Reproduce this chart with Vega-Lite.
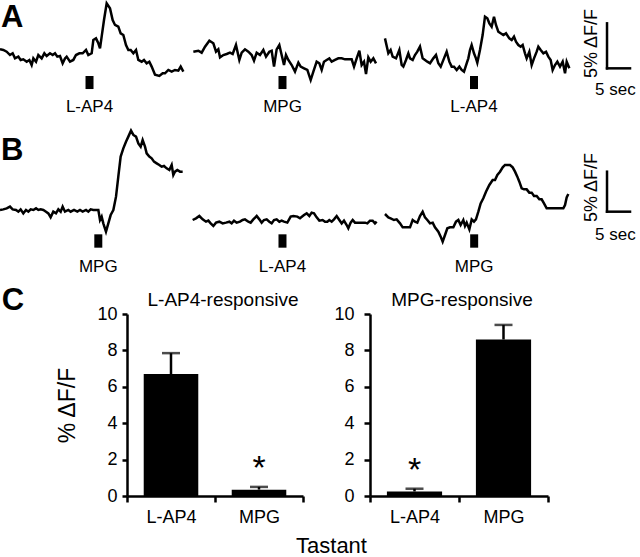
{
  "$schema": "https://vega.github.io/schema/vega-lite/v6.json",
  "padding": 0,
  "background": "white",
  "bounds": "flush",
  "spacing": 0,
  "datasets": {
    "tracesA": [
      {"trace":"A1","t":0,"v":0.85},{"trace":"A1","t":0.72,"v":0.78},{"trace":"A1","t":1.45,"v":0.59},{"trace":"A1","t":2.17,"v":0.22},{"trace":"A1","t":2.75,"v":0.41},{"trace":"A1","t":3.26,"v":-0.15},{"trace":"A1","t":3.99,"v":0.04},{"trace":"A1","t":4.49,"v":-0.33},{"trace":"A1","t":5.07,"v":-0.26},{"trace":"A1","t":5.8,"v":-0.52},{"trace":"A1","t":6.38,"v":-0.33},{"trace":"A1","t":6.88,"v":-0.89},{"trace":"A1","t":7.25,"v":-0.15},{"trace":"A1","t":7.83,"v":-0.52},{"trace":"A1","t":8.33,"v":0.22},{"trace":"A1","t":9.06,"v":-0.15},{"trace":"A1","t":9.64,"v":0.41},{"trace":"A1","t":10.14,"v":0.11},{"trace":"A1","t":10.87,"v":0.41},{"trace":"A1","t":11.45,"v":0.22},{"trace":"A1","t":11.96,"v":0.41},{"trace":"A1","t":12.46,"v":0.04},{"trace":"A1","t":13.04,"v":0.11},{"trace":"A1","t":13.62,"v":-0.7},{"trace":"A1","t":14.13,"v":-0.15},{"trace":"A1","t":14.49,"v":0.04},{"trace":"A1","t":15.22,"v":-0.52},{"trace":"A1","t":15.94,"v":-0.33},{"trace":"A1","t":16.52,"v":0.22},{"trace":"A1","t":17.25,"v":0.41},{"trace":"A1","t":17.97,"v":0.41},{"trace":"A1","t":18.7,"v":0.78},{"trace":"A1","t":19.2,"v":0.22},{"trace":"A1","t":19.93,"v":0.41},{"trace":"A1","t":20.29,"v":1.89},{"trace":"A1","t":20.87,"v":2.07},{"trace":"A1","t":21.38,"v":1.52},{"trace":"A1","t":21.74,"v":0.96},{"trace":"A1","t":22.1,"v":2.26},{"trace":"A1","t":22.61,"v":4.11},{"trace":"A1","t":23.19,"v":5.96},{"trace":"A1","t":23.91,"v":5.41},{"trace":"A1","t":24.49,"v":4.11},{"trace":"A1","t":25.0,"v":3.56},{"trace":"A1","t":25.72,"v":3.37},{"trace":"A1","t":26.23,"v":2.63},{"trace":"A1","t":26.81,"v":2.44},{"trace":"A1","t":27.39,"v":1.33},{"trace":"A1","t":27.9,"v":0.78},{"trace":"A1","t":28.41,"v":0.78},{"trace":"A1","t":28.99,"v":0.41},{"trace":"A1","t":29.57,"v":0.78},{"trace":"A1","t":30.07,"v":-0.33},{"trace":"A1","t":30.8,"v":-0.52},{"trace":"A1","t":31.3,"v":-0.33},{"trace":"A1","t":31.88,"v":-0.7},{"trace":"A1","t":32.46,"v":-0.52},{"trace":"A1","t":32.97,"v":-1.07},{"trace":"A1","t":33.7,"v":-1.97},{"trace":"A1","t":34.64,"v":-2.11},{"trace":"A1","t":35.36,"v":-1.81},{"trace":"A1","t":35.87,"v":-1.81},{"trace":"A1","t":36.59,"v":-1.44},{"trace":"A1","t":37.32,"v":-1.63},{"trace":"A1","t":38.04,"v":-1.44},{"trace":"A1","t":38.77,"v":-1.52},{"trace":"A1","t":39.28,"v":-1.07},{"trace":"A1","t":39.86,"v":-1.63},
      {"trace":"A2","t":42.03,"v":0.59},{"trace":"A2","t":43.12,"v":0.7},{"trace":"A2","t":43.84,"v":0.48},{"trace":"A2","t":44.57,"v":1.15},{"trace":"A2","t":45.51,"v":1.81},{"trace":"A2","t":46.38,"v":1.52},{"trace":"A2","t":46.96,"v":0.59},{"trace":"A2","t":47.46,"v":0.85},{"trace":"A2","t":47.83,"v":-0.04},{"trace":"A2","t":48.55,"v":0.22},{"trace":"A2","t":49.28,"v":0.33},{"trace":"A2","t":50.0,"v":0.48},{"trace":"A2","t":50.58,"v":0.33},{"trace":"A2","t":51.3,"v":1.33},{"trace":"A2","t":52.03,"v":-0.33},{"trace":"A2","t":52.54,"v":0.48},{"trace":"A2","t":53.26,"v":0.85},{"trace":"A2","t":53.99,"v":0.59},{"trace":"A2","t":54.71,"v":0.22},{"trace":"A2","t":55.22,"v":-0.41},{"trace":"A2","t":55.8,"v":0.48},{"trace":"A2","t":56.52,"v":0.22},{"trace":"A2","t":57.25,"v":0.78},{"trace":"A2","t":57.83,"v":0.04},{"trace":"A2","t":58.55,"v":0.59},{"trace":"A2","t":59.06,"v":0.7},{"trace":"A2","t":59.57,"v":-1.07},{"trace":"A2","t":60.14,"v":0.85},{"trace":"A2","t":60.72,"v":1.33},{"trace":"A2","t":61.23,"v":0.22},{"trace":"A2","t":61.74,"v":-0.89},{"trace":"A2","t":62.17,"v":0.22},{"trace":"A2","t":62.68,"v":-0.33},{"trace":"A2","t":63.41,"v":-0.89},{"trace":"A2","t":64.13,"v":-1.63},{"trace":"A2","t":64.86,"v":-0.63},{"trace":"A2","t":65.36,"v":-1.07},{"trace":"A2","t":66.09,"v":-1.26},{"trace":"A2","t":66.81,"v":-1.44},{"trace":"A2","t":67.54,"v":-2.56},{"trace":"A2","t":68.12,"v":-1.63},{"trace":"A2","t":68.84,"v":-0.52},{"trace":"A2","t":69.42,"v":-0.7},{"trace":"A2","t":69.93,"v":-1.44},{"trace":"A2","t":70.43,"v":-0.52},{"trace":"A2","t":71.01,"v":-0.33},{"trace":"A2","t":71.59,"v":-0.15},{"trace":"A2","t":72.1,"v":-0.52},{"trace":"A2","t":72.83,"v":-0.33},{"trace":"A2","t":73.55,"v":-0.15},{"trace":"A2","t":74.28,"v":-0.15},{"trace":"A2","t":75.0,"v":-0.26},{"trace":"A2","t":75.72,"v":-0.26},{"trace":"A2","t":76.45,"v":-0.26},{"trace":"A2","t":76.96,"v":-1.07},{"trace":"A2","t":77.54,"v":-0.15},{"trace":"A2","t":78.12,"v":0.7},{"trace":"A2","t":78.62,"v":-0.89},{"trace":"A2","t":79.13,"v":-0.52},{"trace":"A2","t":79.57,"v":-1.89},{"trace":"A2","t":80.07,"v":-0.04},{"trace":"A2","t":80.58,"v":-0.52},{"trace":"A2","t":81.16,"v":-0.15},{"trace":"A2","t":81.74,"v":-0.7},
      {"trace":"A3","t":83.69,"v":2.07},{"trace":"A3","t":84.42,"v":0.41},{"trace":"A3","t":84.92,"v":0.78},{"trace":"A3","t":85.36,"v":0.04},{"trace":"A3","t":86.09,"v":-0.15},{"trace":"A3","t":86.81,"v":0.78},{"trace":"A3","t":87.32,"v":-0.89},{"trace":"A3","t":87.68,"v":-1.07},{"trace":"A3","t":88.26,"v":-0.33},{"trace":"A3","t":88.77,"v":0.41},{"trace":"A3","t":89.13,"v":-0.15},{"trace":"A3","t":89.71,"v":-0.33},{"trace":"A3","t":90.21,"v":0.22},{"trace":"A3","t":90.72,"v":0.59},{"trace":"A3","t":91.3,"v":1.15},{"trace":"A3","t":91.88,"v":-0.15},{"trace":"A3","t":92.39,"v":-0.33},{"trace":"A3","t":92.9,"v":-0.52},{"trace":"A3","t":93.48,"v":-0.7},{"trace":"A3","t":94.2,"v":-0.15},{"trace":"A3","t":94.78,"v":0.22},{"trace":"A3","t":95.29,"v":-0.7},{"trace":"A3","t":95.8,"v":-1.07},{"trace":"A3","t":96.52,"v":-0.15},{"trace":"A3","t":97.1,"v":0.59},{"trace":"A3","t":97.68,"v":-0.52},{"trace":"A3","t":98.19,"v":-1.07},{"trace":"A3","t":98.7,"v":-1.07},{"trace":"A3","t":99.28,"v":-1.44},{"trace":"A3","t":99.86,"v":-1.07},{"trace":"A3","t":100.36,"v":-1.44},{"trace":"A3","t":100.87,"v":-1.63},{"trace":"A3","t":101.45,"v":-0.7},{"trace":"A3","t":101.81,"v":-0.15},{"trace":"A3","t":102.17,"v":0.78},{"trace":"A3","t":102.53,"v":1.33},{"trace":"A3","t":103.04,"v":0.41},{"trace":"A3","t":103.47,"v":-0.15},{"trace":"A3","t":103.76,"v":-0.63},{"trace":"A3","t":104.34,"v":0.78},{"trace":"A3","t":104.92,"v":2.44},{"trace":"A3","t":105.43,"v":4.48},{"trace":"A3","t":105.94,"v":4.3},{"trace":"A3","t":106.38,"v":3.74},{"trace":"A3","t":106.88,"v":3.37},{"trace":"A3","t":107.39,"v":4.48},{"trace":"A3","t":107.82,"v":3.56},{"trace":"A3","t":108.33,"v":2.81},{"trace":"A3","t":108.84,"v":2.63},{"trace":"A3","t":109.42,"v":2.44},{"trace":"A3","t":110.0,"v":2.63},{"trace":"A3","t":110.72,"v":2.07},{"trace":"A3","t":111.23,"v":1.89},{"trace":"A3","t":111.74,"v":2.26},{"trace":"A3","t":112.17,"v":1.7},{"trace":"A3","t":112.68,"v":1.33},{"trace":"A3","t":113.19,"v":1.15},{"trace":"A3","t":113.62,"v":1.33},{"trace":"A3","t":114.13,"v":0.41},{"trace":"A3","t":114.49,"v":-0.15},{"trace":"A3","t":115.07,"v":0.59},{"trace":"A3","t":115.58,"v":-0.89},{"trace":"A3","t":116.09,"v":-0.15},{"trace":"A3","t":116.67,"v":0.59},{"trace":"A3","t":117.03,"v":1.15},{"trace":"A3","t":117.54,"v":0.78},{"trace":"A3","t":118.12,"v":0.41},{"trace":"A3","t":118.7,"v":0.59},{"trace":"A3","t":119.2,"v":0.04},{"trace":"A3","t":119.71,"v":-0.33},{"trace":"A3","t":120.14,"v":-1.44},{"trace":"A3","t":120.65,"v":-0.89},{"trace":"A3","t":121.16,"v":-0.52},{"trace":"A3","t":121.74,"v":-1.07},{"trace":"A3","t":122.32,"v":-0.52},{"trace":"A3","t":122.83,"v":-1.81},{"trace":"A3","t":123.19,"v":-0.52},{"trace":"A3","t":123.77,"v":-1.26}
    ],
    "stimA": [
      {"t": 19.46, "label": "L-AP4"},
      {"t": 61.41, "label": "MPG"},
      {"t": 103.04, "label": "L-AP4"}
    ],
    "tracesB": [
      {"trace":"B1","t":0,"v":0},{"trace":"B1","t":0.72,"v":0.08},{"trace":"B1","t":1.45,"v":0.21},{"trace":"B1","t":2.17,"v":0.42},{"trace":"B1","t":2.75,"v":0.08},{"trace":"B1","t":3.48,"v":0},{"trace":"B1","t":3.99,"v":-0.21},{"trace":"B1","t":4.49,"v":0.08},{"trace":"B1","t":5.07,"v":-0.42},{"trace":"B1","t":5.65,"v":0},{"trace":"B1","t":6.16,"v":-0.21},{"trace":"B1","t":6.67,"v":0.08},{"trace":"B1","t":7.25,"v":0},{"trace":"B1","t":7.83,"v":0.21},{"trace":"B1","t":8.33,"v":0},{"trace":"B1","t":8.84,"v":0.08},{"trace":"B1","t":9.42,"v":0},{"trace":"B1","t":10.0,"v":-0.21},{"trace":"B1","t":10.51,"v":-0.42},{"trace":"B1","t":11.01,"v":-0.92},{"trace":"B1","t":11.59,"v":-0.21},{"trace":"B1","t":12.17,"v":-0.42},{"trace":"B1","t":12.68,"v":0.08},{"trace":"B1","t":13.19,"v":-0.21},{"trace":"B1","t":13.62,"v":0.42},{"trace":"B1","t":14.13,"v":-0.21},{"trace":"B1","t":14.86,"v":0},{"trace":"B1","t":15.36,"v":-0.21},{"trace":"B1","t":16.09,"v":0},{"trace":"B1","t":16.81,"v":-0.21},{"trace":"B1","t":17.39,"v":0},{"trace":"B1","t":17.97,"v":-0.21},{"trace":"B1","t":18.7,"v":0},{"trace":"B1","t":19.2,"v":-0.21},{"trace":"B1","t":19.71,"v":0.08},{"trace":"B1","t":20.29,"v":0},{"trace":"B1","t":20.87,"v":0},{"trace":"B1","t":21.38,"v":0},{"trace":"B1","t":21.74,"v":-1.25},{"trace":"B1","t":22.1,"v":-0.83},{"trace":"B1","t":22.46,"v":-1.67},{"trace":"B1","t":23.04,"v":-2.71},{"trace":"B1","t":23.55,"v":-1.67},{"trace":"B1","t":24.06,"v":-0.63},{"trace":"B1","t":24.64,"v":0},{"trace":"B1","t":25.22,"v":1.67},{"trace":"B1","t":25.72,"v":4.17},{"trace":"B1","t":26.23,"v":6.67},{"trace":"B1","t":26.81,"v":7.71},{"trace":"B1","t":27.39,"v":8.54},{"trace":"B1","t":27.9,"v":9.17},{"trace":"B1","t":28.48,"v":9.92},{"trace":"B1","t":28.99,"v":9.38},{"trace":"B1","t":29.57,"v":9.17},{"trace":"B1","t":30.07,"v":8.33},{"trace":"B1","t":30.58,"v":7.92},{"trace":"B1","t":31.01,"v":8.75},{"trace":"B1","t":31.52,"v":7.92},{"trace":"B1","t":31.88,"v":7.08},{"trace":"B1","t":32.46,"v":6.67},{"trace":"B1","t":32.97,"v":6.46},{"trace":"B1","t":33.48,"v":6.04},{"trace":"B1","t":34.06,"v":5.83},{"trace":"B1","t":34.64,"v":5.63},{"trace":"B1","t":35.14,"v":5.42},{"trace":"B1","t":35.65,"v":5.5},{"trace":"B1","t":36.23,"v":5.21},{"trace":"B1","t":36.81,"v":5.0},{"trace":"B1","t":37.32,"v":5.63},{"trace":"B1","t":37.68,"v":4.38},{"trace":"B1","t":38.04,"v":4.79},{"trace":"B1","t":38.55,"v":5.0},{"trace":"B1","t":39.13,"v":4.79},{"trace":"B1","t":39.71,"v":4.79},
      {"trace":"B2","t":41.88,"v":-1.25},{"trace":"B2","t":42.61,"v":-1.04},{"trace":"B2","t":43.33,"v":-0.75},{"trace":"B2","t":44.06,"v":-1.17},{"trace":"B2","t":44.78,"v":-1.46},{"trace":"B2","t":45.29,"v":-1.33},{"trace":"B2","t":45.8,"v":-1.67},{"trace":"B2","t":46.38,"v":-2.0},{"trace":"B2","t":46.96,"v":-1.58},{"trace":"B2","t":47.68,"v":-1.46},{"trace":"B2","t":48.41,"v":-1.67},{"trace":"B2","t":49.13,"v":-1.58},{"trace":"B2","t":49.86,"v":-1.46},{"trace":"B2","t":50.36,"v":-1.67},{"trace":"B2","t":50.87,"v":-1.33},{"trace":"B2","t":51.45,"v":-1.58},{"trace":"B2","t":52.17,"v":-1.46},{"trace":"B2","t":52.75,"v":-1.25},{"trace":"B2","t":53.26,"v":-1.17},{"trace":"B2","t":53.99,"v":-1.46},{"trace":"B2","t":54.49,"v":-1.58},{"trace":"B2","t":55.07,"v":-1.17},{"trace":"B2","t":55.8,"v":-0.75},{"trace":"B2","t":56.38,"v":-1.17},{"trace":"B2","t":56.88,"v":-1.58},{"trace":"B2","t":57.39,"v":-1.25},{"trace":"B2","t":57.97,"v":-1.17},{"trace":"B2","t":58.55,"v":-1.46},{"trace":"B2","t":59.06,"v":-1.67},{"trace":"B2","t":59.57,"v":-1.25},{"trace":"B2","t":60.14,"v":-1.17},{"trace":"B2","t":60.72,"v":-1.46},{"trace":"B2","t":61.23,"v":-1.33},{"trace":"B2","t":61.74,"v":-1.46},{"trace":"B2","t":62.46,"v":-1.58},{"trace":"B2","t":63.19,"v":-0.83},{"trace":"B2","t":63.77,"v":-0.75},{"trace":"B2","t":64.64,"v":-0.83},{"trace":"B2","t":65.22,"v":-1.04},{"trace":"B2","t":66.09,"v":-0.63},{"trace":"B2","t":66.67,"v":-0.42},{"trace":"B2","t":67.25,"v":-0.75},{"trace":"B2","t":67.75,"v":-0.33},{"trace":"B2","t":68.26,"v":-0.42},{"trace":"B2","t":68.84,"v":-0.92},{"trace":"B2","t":69.42,"v":-1.33},{"trace":"B2","t":70.14,"v":-1.25},{"trace":"B2","t":70.65,"v":-1.46},{"trace":"B2","t":71.16,"v":-1.46},{"trace":"B2","t":71.59,"v":-1.25},{"trace":"B2","t":72.1,"v":-1.46},{"trace":"B2","t":72.61,"v":-1.17},{"trace":"B2","t":73.19,"v":-0.75},{"trace":"B2","t":73.77,"v":-1.25},{"trace":"B2","t":74.28,"v":-1.67},{"trace":"B2","t":74.78,"v":-1.33},{"trace":"B2","t":75.36,"v":-1.88},{"trace":"B2","t":75.72,"v":-2.29},{"trace":"B2","t":76.23,"v":-1.58},{"trace":"B2","t":76.67,"v":-1.25},{"trace":"B2","t":77.17,"v":-1.58},{"trace":"B2","t":77.68,"v":-1.58},{"trace":"B2","t":78.26,"v":-1.58},{"trace":"B2","t":78.84,"v":-1.58},{"trace":"B2","t":79.35,"v":-1.58},{"trace":"B2","t":79.86,"v":-1.67},{"trace":"B2","t":80.43,"v":-1.33},{"trace":"B2","t":81.01,"v":-1.33},{"trace":"B2","t":81.52,"v":-1.67},{"trace":"B2","t":81.88,"v":-1.46},
      {"trace":"B3","t":83.69,"v":-0.5},{"trace":"B3","t":84.42,"v":-0.92},{"trace":"B3","t":84.92,"v":-1.04},{"trace":"B3","t":85.65,"v":-1.25},{"trace":"B3","t":86.23,"v":-1.17},{"trace":"B3","t":86.96,"v":-1.67},{"trace":"B3","t":87.54,"v":-2.17},{"trace":"B3","t":88.26,"v":-2.17},{"trace":"B3","t":89.13,"v":-2.17},{"trace":"B3","t":89.71,"v":-1.25},{"trace":"B3","t":90.21,"v":-1.46},{"trace":"B3","t":90.72,"v":-1.58},{"trace":"B3","t":91.3,"v":-0.75},{"trace":"B3","t":91.88,"v":-0.21},{"trace":"B3","t":92.39,"v":-0.92},{"trace":"B3","t":92.9,"v":-1.25},{"trace":"B3","t":93.48,"v":-1.67},{"trace":"B3","t":94.06,"v":-1.58},{"trace":"B3","t":94.56,"v":-2.17},{"trace":"B3","t":95.29,"v":-2.71},{"trace":"B3","t":95.8,"v":-3.33},{"trace":"B3","t":96.23,"v":-3.96},{"trace":"B3","t":96.74,"v":-3.13},{"trace":"B3","t":97.25,"v":-2.29},{"trace":"B3","t":97.83,"v":-2.17},{"trace":"B3","t":98.55,"v":-2.17},{"trace":"B3","t":99.13,"v":-1.46},{"trace":"B3","t":99.64,"v":-1.25},{"trace":"B3","t":100.14,"v":-1.88},{"trace":"B3","t":100.72,"v":-1.25},{"trace":"B3","t":101.09,"v":-2.0},{"trace":"B3","t":101.45,"v":-1.58},{"trace":"B3","t":102.03,"v":-2.42},{"trace":"B3","t":102.54,"v":-1.17},{"trace":"B3","t":103.04,"v":-1.46},{"trace":"B3","t":103.47,"v":-1.17},{"trace":"B3","t":103.99,"v":-0.21},{"trace":"B3","t":104.49,"v":0.83},{"trace":"B3","t":105.07,"v":1.46},{"trace":"B3","t":105.65,"v":2.29},{"trace":"B3","t":106.38,"v":3.13},{"trace":"B3","t":107.1,"v":3.75},{"trace":"B3","t":107.61,"v":3.75},{"trace":"B3","t":108.12,"v":4.38},{"trace":"B3","t":108.7,"v":4.79},{"trace":"B3","t":109.28,"v":5.33},{"trace":"B3","t":109.78,"v":5.63},{"trace":"B3","t":110.29,"v":5.63},{"trace":"B3","t":110.87,"v":5.63},{"trace":"B3","t":111.45,"v":5.33},{"trace":"B3","t":111.96,"v":4.79},{"trace":"B3","t":112.46,"v":4.17},{"trace":"B3","t":112.9,"v":3.54},{"trace":"B3","t":113.41,"v":2.71},{"trace":"B3","t":113.91,"v":2.58},{"trace":"B3","t":114.49,"v":2.58},{"trace":"B3","t":115.07,"v":2.17},{"trace":"B3","t":115.58,"v":2.17},{"trace":"B3","t":116.09,"v":1.75},{"trace":"B3","t":116.67,"v":1.75},{"trace":"B3","t":117.25,"v":1.33},{"trace":"B3","t":117.75,"v":1.33},{"trace":"B3","t":118.26,"v":0.83},{"trace":"B3","t":118.84,"v":0.21},{"trace":"B3","t":119.57,"v":0.21},{"trace":"B3","t":120.29,"v":0.21},{"trace":"B3","t":121.01,"v":0.21},{"trace":"B3","t":121.74,"v":0.21},{"trace":"B3","t":122.46,"v":0.21},{"trace":"B3","t":122.83,"v":0.63},{"trace":"B3","t":123.19,"v":1.58},{"trace":"B3","t":123.55,"v":2.0}
    ],
    "stimB": [
      {"t": 21.37, "label": "MPG"},
      {"t": 61.41, "label": "L-AP4"},
      {"t": 103.08, "label": "MPG"}
    ],
    "bars": [
      {"panel": "L-AP4-responsive", "tastant": "L-AP4", "mean": 6.7, "upper": 7.85, "sig": ""},
      {"panel": "L-AP4-responsive", "tastant": "MPG", "mean": 0.35, "upper": 0.5, "sig": "*"},
      {"panel": "MPG-responsive", "tastant": "L-AP4", "mean": 0.25, "upper": 0.4, "sig": "*"},
      {"panel": "MPG-responsive", "tastant": "MPG", "mean": 8.6, "upper": 9.4, "sig": ""}
    ]
  },
  "vconcat": [
    {
      "width": 640,
      "height": 120,
      "layer": [
        {
          "data": {"name": "tracesA"},
          "mark": {"type": "line", "strokeWidth": 2.5, "clip": true},
          "encoding": {
            "x": {"field": "t", "type": "quantitative", "scale": {"domain": [0, 139.13], "nice": false, "zero": false}, "axis": null},
            "y": {"field": "v", "type": "quantitative", "scale": {"domain": [-7, 6.333], "nice": false, "zero": false}, "axis": null},
            "detail": {"field": "trace"}
          }
        },
        {
          "data": {"name": "stimA"},
          "mark": {"type": "rule", "strokeWidth": 8},
          "encoding": {"x": {"field": "t", "type": "quantitative"}, "y": {"datum": -2.11}, "y2": {"datum": -3.56}}
        },
        {
          "data": {"name": "stimA"},
          "mark": {"type": "text", "fontSize": 17, "baseline": "alphabetic", "align": "center"},
          "encoding": {"x": {"field": "t", "type": "quantitative"}, "y": {"datum": -6.06}, "text": {"field": "label"}}
        },
        {
          "data": {"values": [{"bar": "5%"}]},
          "mark": {"type": "rule", "strokeWidth": 2.5, "strokeCap": "square"},
          "encoding": {"x": {"datum": 131.96}, "y": {"datum": -1.26}, "y2": {"datum": 3.74}}
        },
        {
          "data": {"values": [{"bar": "5 sec"}]},
          "mark": {"type": "rule", "strokeWidth": 2.5, "strokeCap": "square"},
          "encoding": {"x": {"datum": 131.96}, "x2": {"datum": 136.96}, "y": {"datum": -1.26}}
        },
        {
          "data": {"values": [{"text": "5% ΔF/F"}]},
          "mark": {"type": "text", "angle": 270, "fontSize": 18, "align": "center", "baseline": "alphabetic"},
          "encoding": {"x": {"datum": 129.78}, "y": {"datum": 1.5}, "text": {"field": "text"}}
        },
        {
          "data": {"values": [{"text": "5 sec"}]},
          "mark": {"type": "text", "fontSize": 17, "align": "left", "baseline": "alphabetic"},
          "encoding": {"x": {"datum": 129.35}, "y": {"datum": -4.22}, "text": {"field": "text"}}
        },
        {
          "data": {"values": [{"text": "A"}]},
          "mark": {"type": "text", "fontSize": 31, "fontWeight": "bold", "align": "left", "baseline": "alphabetic"},
          "encoding": {"x": {"datum": 0.2}, "y": {"datum": 3.33}, "text": {"field": "text"}}
        }
      ]
    },
    {
      "width": 640,
      "height": 194,
      "layer": [
        {
          "data": {"name": "tracesB"},
          "mark": {"type": "line", "strokeWidth": 2.5, "clip": true},
          "encoding": {
            "x": {"field": "t", "type": "quantitative", "scale": {"domain": [0, 139.13], "nice": false, "zero": false}, "axis": null},
            "y": {"field": "v", "type": "quantitative", "scale": {"domain": [-13, 11.25], "nice": false, "zero": false}, "axis": null},
            "detail": {"field": "trace"}
          }
        },
        {
          "data": {"name": "stimB"},
          "mark": {"type": "rule", "strokeWidth": 8},
          "encoding": {"x": {"field": "t", "type": "quantitative"}, "y": {"datum": -3.04}, "y2": {"datum": -4.71}}
        },
        {
          "data": {"name": "stimB"},
          "mark": {"type": "text", "fontSize": 17, "baseline": "alphabetic", "align": "center"},
          "encoding": {"x": {"field": "t", "type": "quantitative"}, "y": {"datum": -7.71}, "text": {"field": "label"}}
        },
        {
          "data": {"values": [{"bar": "5%"}]},
          "mark": {"type": "rule", "strokeWidth": 2.5, "strokeCap": "square"},
          "encoding": {"x": {"datum": 131.96}, "y": {"datum": -0.21}, "y2": {"datum": 4.79}}
        },
        {
          "data": {"values": [{"bar": "5 sec"}]},
          "mark": {"type": "rule", "strokeWidth": 2.5, "strokeCap": "square"},
          "encoding": {"x": {"datum": 131.96}, "x2": {"datum": 136.96}, "y": {"datum": -0.21}}
        },
        {
          "data": {"values": [{"text": "5% ΔF/F"}]},
          "mark": {"type": "text", "angle": 270, "fontSize": 18, "align": "center", "baseline": "alphabetic"},
          "encoding": {"x": {"datum": 129.78}, "y": {"datum": 2.81}, "text": {"field": "text"}}
        },
        {
          "data": {"values": [{"text": "5 sec"}]},
          "mark": {"type": "text", "fontSize": 17, "align": "left", "baseline": "alphabetic"},
          "encoding": {"x": {"datum": 129.35}, "y": {"datum": -3.75}, "text": {"field": "text"}}
        },
        {
          "data": {"values": [{"text": "B"}]},
          "mark": {"type": "text", "fontSize": 31, "fontWeight": "bold", "align": "left", "baseline": "alphabetic"},
          "encoding": {"x": {"datum": 0.2}, "y": {"datum": 6.25}, "text": {"field": "text"}}
        }
      ]
    },
    {
      "bounds": "flush",
      "spacing": 67,
      "hconcat": [
        {
          "width": 60,
          "height": 182,
          "data": {"values": [{"text": "C"}]},
          "mark": {"type": "text", "fontSize": 31, "fontWeight": "bold", "align": "left", "baseline": "alphabetic"},
          "encoding": {
            "x": {"datum": 0.03, "type": "quantitative", "scale": {"domain": [0, 1], "nice": false, "zero": false}, "axis": null},
            "y": {"datum": 10.22, "type": "quantitative", "scale": {"domain": [0, 10], "nice": false, "zero": false}, "axis": null},
            "text": {"field": "text"}
          }
        },
        {
          "width": 176,
          "height": 182,
          "title": {"text": "L-AP4-responsive", "fontSize": 19, "fontWeight": "normal", "dx": 8, "offset": -20, "baseline": "alphabetic", "anchor": "middle", "frame": "group"},
          "data": {"name": "bars"},
          "transform": [{"filter": "datum.panel === 'L-AP4-responsive'"}],
          "encoding": {
            "x": {
              "field": "tastant", "type": "nominal", "sort": ["L-AP4", "MPG"],
              "scale": {"paddingInner": 0, "paddingOuter": 0},
              "axis": {"labelAngle": 0, "labelFontSize": 18, "tickBand": "extent", "tickSize": 6, "tickWidth": 2.5, "domainWidth": 2.5, "labelPadding": 6, "title": "Tastant", "titleFontSize": 22, "titleFontWeight": "normal", "titleX": 204, "titleY": 56, "titleAlign": "center", "titleBaseline": "alphabetic"}
            }
          },
          "layer": [
            {
              "mark": {"type": "bar", "width": {"band": 0.62}},
              "encoding": {
                "y": {"field": "mean", "type": "quantitative", "scale": {"domain": [0, 10], "nice": false},
                  "axis": {"values": [0, 2, 4, 6, 8, 10], "labelFontSize": 18, "labelOverlap": false, "tickSize": 5, "tickWidth": 2.5, "domainWidth": 2.5, "labelPadding": 5, "labelFlush": false, "title": "% ΔF/F", "titleFontSize": 23, "titleFontWeight": "normal", "titlePadding": 17}}
              }
            },
            {
              "mark": {"type": "rule", "strokeWidth": 2.5},
              "encoding": {
                "y": {"field": "mean", "type": "quantitative",
                  "axis": {"values": [0, 2, 4, 6, 8, 10], "labelFontSize": 18, "labelOverlap": false, "tickSize": 5, "tickWidth": 2.5, "domainWidth": 2.5, "labelPadding": 5, "labelFlush": false, "title": "% ΔF/F", "titleFontSize": 23, "titleFontWeight": "normal", "titlePadding": 17}},
                "y2": {"field": "upper"}
              }
            },
            {
              "mark": {"type": "tick", "size": 18, "thickness": 2.5},
              "encoding": {
                "y": {"field": "upper", "type": "quantitative",
                  "axis": {"values": [0, 2, 4, 6, 8, 10], "labelFontSize": 18, "labelOverlap": false, "tickSize": 5, "tickWidth": 2.5, "domainWidth": 2.5, "labelPadding": 5, "labelFlush": false, "title": "% ΔF/F", "titleFontSize": 23, "titleFontWeight": "normal", "titlePadding": 17}}
              }
            },
            {
              "transform": [{"filter": "datum.sig !== ''"}],
              "mark": {"type": "text", "fontSize": 34, "baseline": "alphabetic", "dy": -8},
              "encoding": {
                "y": {"field": "upper", "type": "quantitative",
                  "axis": {"values": [0, 2, 4, 6, 8, 10], "labelFontSize": 18, "labelOverlap": false, "tickSize": 5, "tickWidth": 2.5, "domainWidth": 2.5, "labelPadding": 5, "labelFlush": false, "title": "% ΔF/F", "titleFontSize": 23, "titleFontWeight": "normal", "titlePadding": 17}},
                "text": {"field": "sig"}
              }
            }
          ]
        },
        {
          "width": 178,
          "height": 182,
          "title": {"text": "MPG-responsive", "fontSize": 19, "fontWeight": "normal", "dx": 3, "offset": -20, "baseline": "alphabetic", "anchor": "middle", "frame": "group"},
          "data": {"name": "bars"},
          "transform": [{"filter": "datum.panel === 'MPG-responsive'"}],
          "encoding": {
            "x": {
              "field": "tastant", "type": "nominal", "sort": ["L-AP4", "MPG"],
              "scale": {"paddingInner": 0, "paddingOuter": 0},
              "axis": {"labelAngle": 0, "labelFontSize": 18, "tickBand": "extent", "tickSize": 6, "tickWidth": 2.5, "domainWidth": 2.5, "labelPadding": 6, "title": null}
            }
          },
          "layer": [
            {
              "mark": {"type": "bar", "width": {"band": 0.62}},
              "encoding": {
                "y": {"field": "mean", "type": "quantitative", "scale": {"domain": [0, 10], "nice": false},
                  "axis": {"values": [0, 2, 4, 6, 8, 10], "labelFontSize": 18, "labelOverlap": false, "tickSize": 6, "tickWidth": 2.5, "domainWidth": 2.5, "labelPadding": 10, "labelFlush": false, "title": null}}
              }
            },
            {
              "mark": {"type": "rule", "strokeWidth": 2.5},
              "encoding": {
                "y": {"field": "mean", "type": "quantitative",
                  "axis": {"values": [0, 2, 4, 6, 8, 10], "labelFontSize": 18, "labelOverlap": false, "tickSize": 6, "tickWidth": 2.5, "domainWidth": 2.5, "labelPadding": 10, "labelFlush": false, "title": null}},
                "y2": {"field": "upper"}
              }
            },
            {
              "mark": {"type": "tick", "size": 18, "thickness": 2.5},
              "encoding": {
                "y": {"field": "upper", "type": "quantitative",
                  "axis": {"values": [0, 2, 4, 6, 8, 10], "labelFontSize": 18, "labelOverlap": false, "tickSize": 6, "tickWidth": 2.5, "domainWidth": 2.5, "labelPadding": 10, "labelFlush": false, "title": null}}
              }
            },
            {
              "transform": [{"filter": "datum.sig !== ''"}],
              "mark": {"type": "text", "fontSize": 34, "baseline": "alphabetic", "dy": -8},
              "encoding": {
                "y": {"field": "upper", "type": "quantitative",
                  "axis": {"values": [0, 2, 4, 6, 8, 10], "labelFontSize": 18, "labelOverlap": false, "tickSize": 6, "tickWidth": 2.5, "domainWidth": 2.5, "labelPadding": 10, "labelFlush": false, "title": null}},
                "text": {"field": "sig"}
              }
            }
          ]
        }
      ]
    }
  ],
  "config": {
    "view": {"stroke": null},
    "font": "Liberation Sans",
    "text": {"color": "black", "font": "Liberation Sans"},
    "line": {"color": "black"},
    "rule": {"color": "black"},
    "bar": {"color": "black"},
    "tick": {"color": "black"},
    "axis": {"labelFont": "Liberation Sans", "titleFont": "Liberation Sans", "labelColor": "black", "titleColor": "black", "domainColor": "black", "tickColor": "black", "grid": false, "labelOverlap": false},
    "title": {"font": "Liberation Sans", "color": "black", "fontWeight": "normal"}
  }
}
